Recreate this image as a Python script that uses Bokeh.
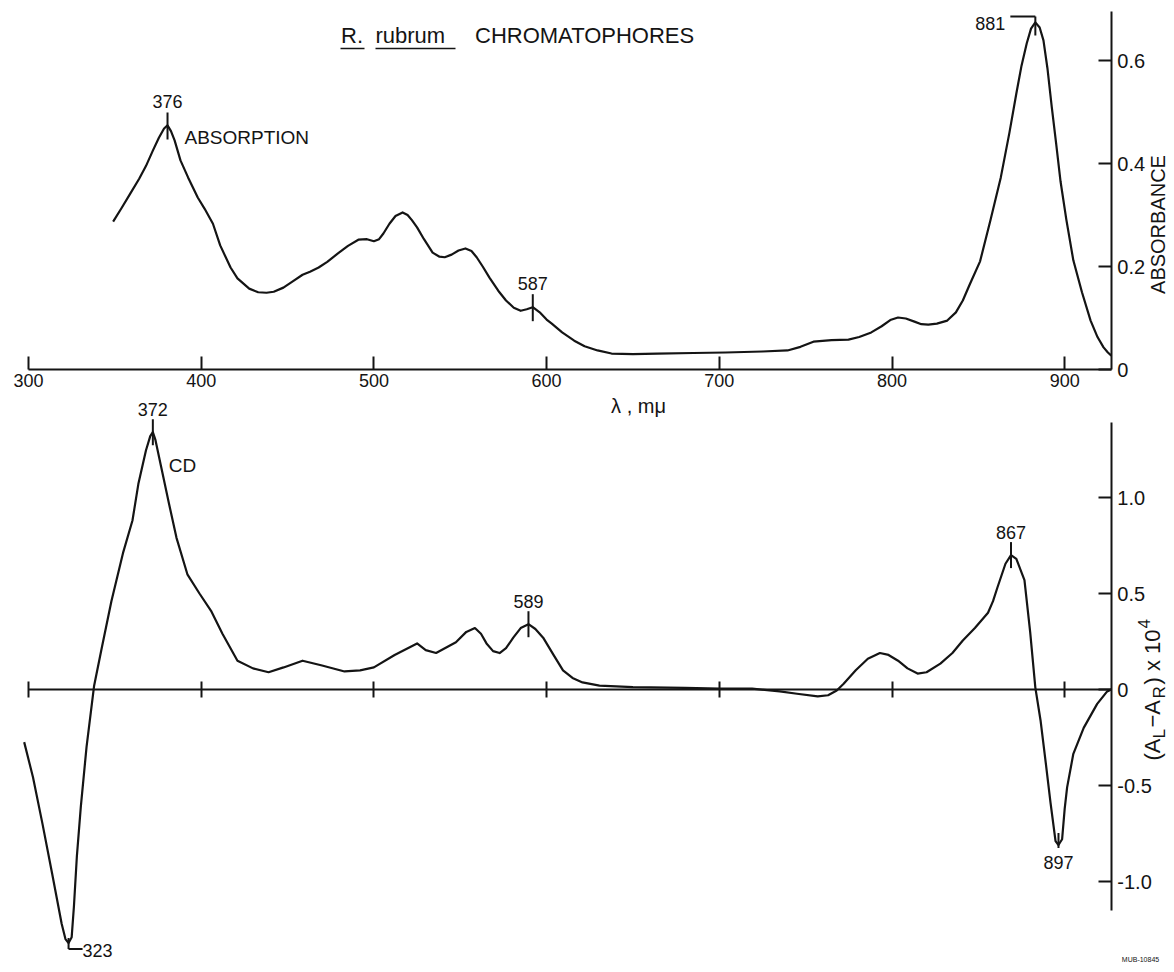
import math
from bokeh.plotting import figure
from bokeh.models import Range1d, LinearAxis, FixedTicker
from bokeh.core.properties import value
from bokeh.embed import file_html
from bokeh.resources import INLINE

# ---------------- data ----------------
abs_wavelength = [349, 354, 359, 364, 368, 372, 375.5, 378.5, 380.5, 382.5,
                  384.6, 388, 392.4, 398, 402, 406.8, 411, 417, 421, 427.8,
                  433, 437.8, 442, 447.6, 453, 458.7, 463, 468, 473, 479,
                  485, 491, 496, 500, 503, 505.5, 509, 512.5, 516.6, 519.5,
                  522, 525, 529, 534, 538, 541, 545, 549, 553, 556.5,
                  559.5, 563, 567, 572, 576.5, 581, 585, 588.5, 592, 596,
                  600, 603, 609, 616, 622, 629.5, 637.6, 650, 664, 685,
                  703.6, 725, 739.5, 747, 754.5, 765, 774.8, 781, 788, 794,
                  799, 803.5, 808, 813, 817, 821, 826, 832, 837, 841,
                  845, 851, 857, 863, 868, 872, 875, 878, 880.5, 883,
                  885.5, 887.7, 890, 892.5, 895, 897.6, 901, 905, 910, 915,
                  919, 922.5, 925, 927]
abs_absorbance = [0.287, 0.314, 0.342, 0.370, 0.395, 0.425, 0.450, 0.468, 0.474, 0.463,
                  0.445, 0.406, 0.373, 0.334, 0.312, 0.283, 0.241, 0.198, 0.177, 0.157,
                  0.150, 0.149, 0.151, 0.159, 0.171, 0.184, 0.190, 0.198, 0.209, 0.225,
                  0.240, 0.252, 0.253, 0.249, 0.253, 0.264, 0.283, 0.298, 0.305, 0.300,
                  0.290, 0.276, 0.253, 0.227, 0.219, 0.218, 0.223, 0.231, 0.235, 0.230,
                  0.218, 0.200, 0.178, 0.153, 0.134, 0.120, 0.114, 0.117, 0.121, 0.111,
                  0.097, 0.089, 0.072, 0.056, 0.045, 0.037, 0.031, 0.030, 0.031, 0.032,
                  0.033, 0.035, 0.037, 0.044, 0.054, 0.057, 0.058, 0.063, 0.072, 0.084,
                  0.096, 0.101, 0.099, 0.093, 0.088, 0.087, 0.089, 0.095, 0.111, 0.134,
                  0.165, 0.210, 0.290, 0.373, 0.460, 0.536, 0.590, 0.633, 0.662, 0.674,
                  0.664, 0.639, 0.585, 0.510, 0.440, 0.365, 0.290, 0.212, 0.150, 0.095,
                  0.063, 0.043, 0.033, 0.027]

cd_wavelength = [297.5, 302.6, 308.1, 313.7, 319.2, 321.4, 323.2, 325, 326.3, 328,
                 330.3, 333.6, 338, 342.5, 348, 354.7, 360.2, 363.6, 368, 370.5,
                 372, 373.5, 376.8, 381.3, 385.7, 392, 399, 405.7, 412.3, 421,
                 430, 439, 447.7, 458.7, 470, 483, 492, 500, 512, 525,
                 530, 536, 547.5, 553.5, 558.5, 562, 565.2, 569, 572.8, 576.5,
                 580.7, 585, 589.5, 593.5, 598, 604, 609.5, 615, 620.8, 630.6,
                 650, 680, 700, 719, 735, 745, 757, 763, 768, 772,
                 779, 786, 793, 798, 803.5, 809, 814.8, 820, 828, 835,
                 841, 848, 855.6, 858.5, 861, 865.7, 868.9, 872, 876.7, 880,
                 883, 886, 889, 891.8, 894.7, 896.4, 898.5, 900, 901.4, 905,
                 911, 918.8, 924.6, 927]
cd_value = [-0.274, -0.457, -0.70, -0.96, -1.22, -1.30, -1.32, -1.29, -1.13, -0.87,
            -0.61, -0.30, 0.02, 0.22, 0.46, 0.71, 0.88, 1.07, 1.245, 1.32,
            1.34, 1.30, 1.16, 0.97, 0.79, 0.60, 0.50, 0.41, 0.29, 0.15,
            0.11, 0.09, 0.115, 0.15, 0.125, 0.094, 0.10, 0.115, 0.18, 0.24,
            0.205, 0.19, 0.246, 0.30, 0.32, 0.29, 0.24, 0.20, 0.19, 0.215,
            0.27, 0.32, 0.34, 0.315, 0.27, 0.18, 0.10, 0.06, 0.037, 0.02,
            0.012, 0.008, 0.005, 0.005, -0.01, -0.022, -0.036, -0.03, -0.005, 0.03,
            0.10, 0.16, 0.19, 0.18, 0.15, 0.11, 0.083, 0.09, 0.135, 0.19,
            0.255, 0.32, 0.40, 0.46, 0.53, 0.655, 0.70, 0.68, 0.57, 0.30,
            0.01, -0.16, -0.38, -0.59, -0.79, -0.81, -0.78, -0.62, -0.51, -0.335,
            -0.2, -0.075, -0.01, 0.0]

x_ticks = [300, 400, 500, 600, 700, 800, 900]
abs_ticks = [0, 0.2, 0.4, 0.6]
abs_tick_labels = ["0", "0.2", "0.4", "0.6"]
cd_ticks = [-1.0, -0.5, 0.0, 0.5, 1.0]
cd_tick_labels = ["-1.0", "-0.5", "0", "0.5", "1.0"]

abs_peak_labels = ["376", "587", "881"]
abs_peak_wavelength = [380.5, 592, 883]
cd_peak_labels = ["372", "589", "867", "897", "323"]
cd_peak_wavelength = [372, 589.5, 868.9, 896.4, 323.2]

X_END = 927.0

# ---------------- layout helpers (page pixels -> data) ----------------
INK = "#141414"
FONT = "Liberation Sans"
W, H = 1172, 970


def lam(px):
    return 300 + (px - 28) / 1.727


def absv(py):
    return (369 - py) / 515


def cdv(py):
    return (689 - py) / 192


def px_of(l):
    return 28 + (l - 300) * 1.727


def py_abs(a):
    return 369 - a * 515


def py_cd(v):
    return 689 - v * 192


p = figure(width=W, height=H, output_backend="svg", toolbar_location=None,
           x_range=Range1d(lam(0), lam(W)),
           y_range=Range1d(cdv(H), cdv(0)),
           min_border_left=0, min_border_right=0, min_border_top=0, min_border_bottom=0,
           x_axis_type=None, y_axis_type=None, tools="")
p.extra_y_ranges = {"abs": Range1d(absv(H), absv(0))}
p.outline_line_color = None
p.xgrid.visible = False
p.ygrid.visible = False
p.background_fill_color = "white"
p.border_fill_color = "white"

# curves
p.line(abs_wavelength, abs_absorbance, y_range_name="abs", line_color=INK,
       line_width=2.2, line_join="round")
p.line(cd_wavelength, cd_value, line_color=INK, line_width=2.2, line_join="round")


def style_axis(ax, size):
    ax.axis_line_color = INK
    ax.axis_line_width = 2
    ax.major_tick_line_color = INK
    ax.major_tick_line_width = 2
    ax.minor_tick_line_color = None
    ax.major_label_text_font = FONT
    ax.major_label_text_font_size = f"{size}px"
    ax.major_label_text_color = INK


# wavelength axis of the absorption panel (at absorbance 0)
ax_top = LinearAxis(y_range_name="abs", fixed_location=0, bounds=(300, X_END),
                    ticker=FixedTicker(ticks=x_ticks))
style_axis(ax_top, 18)
ax_top.major_tick_in = 13
ax_top.major_tick_out = 0
ax_top.major_label_standoff = 4
p.add_layout(ax_top, "below")

# CD zero axis (ticks on both sides, no labels)
ax_cd0 = LinearAxis(fixed_location=0, bounds=(300, X_END),
                    ticker=FixedTicker(ticks=x_ticks),
                    major_label_overrides={t: "" for t in x_ticks})
style_axis(ax_cd0, 18)
ax_cd0.major_tick_in = 8
ax_cd0.major_tick_out = 8
p.add_layout(ax_cd0, "below")

# absorbance axis (right)
ax_abs = LinearAxis(y_range_name="abs", fixed_location=X_END, bounds=(0, 0.695),
                    ticker=FixedTicker(ticks=abs_ticks),
                    major_label_overrides=dict(zip(abs_ticks, abs_tick_labels)))
style_axis(ax_abs, 20)
ax_abs.major_tick_in = 13
ax_abs.major_tick_out = 0
ax_abs.major_label_standoff = 6
p.add_layout(ax_abs, "right")

# CD axis (right)
ax_cd = LinearAxis(fixed_location=X_END, bounds=(-1.15, 1.39),
                   ticker=FixedTicker(ticks=cd_ticks),
                   major_label_overrides=dict(zip(cd_ticks, cd_tick_labels)))
style_axis(ax_cd, 20)
ax_cd.major_tick_in = 13
ax_cd.major_tick_out = 0
ax_cd.major_label_standoff = 6
p.add_layout(ax_cd, "right")


def txt(px, py, s, size, align="center", angle=0.0):
    p.text(x=[lam(px)], y=[cdv(py)], text=[s], text_font=value(FONT),
           text_font_size=value(f"{size}px"), text_align=align,
           text_baseline="middle", angle=angle, text_color=INK)


def seg(px0, py0, px1, py1, w=2.0):
    p.segment(x0=[lam(px0)], y0=[cdv(py0)], x1=[lam(px1)], y1=[cdv(py1)],
              line_color=INK, line_width=w)


# title
txt(340.6, 35, "R.", 22, "left")
txt(375, 35, "rubrum", 22, "left")
txt(474.5, 35, "CHROMATOPHORES", 22, "left")
seg(340, 48, 364, 48, 1.6)
seg(375, 48, 455, 48, 1.6)

txt(184, 137, "ABSORPTION", 19, "left")
txt(182, 465, "CD", 19, "center")
txt(638, 405, "λ , mμ", 20, "center")

# absorption peak markers
for lab, wl in zip(abs_peak_labels, abs_peak_wavelength):
    i = abs_wavelength.index(wl)
    xp = px_of(abs_wavelength[i])
    yp = py_abs(abs_absorbance[i])
    if lab == "881":
        seg(xp, yp - 6, xp, yp + 13)
        seg(xp - 25, yp - 6, xp, yp - 6)
        txt(xp - 30, yp + 1, lab, 18, "right")
    else:
        seg(xp, yp - 13, xp, yp + 14)
        txt(xp, yp - 24, lab, 18, "center")

# CD peak markers
for lab, wl in zip(cd_peak_labels, cd_peak_wavelength):
    i = cd_wavelength.index(wl)
    xp = px_of(cd_wavelength[i])
    yp = py_cd(cd_value[i])
    if lab == "323":
        seg(xp, yp - 5, xp, yp + 6)
        seg(xp, yp + 6, xp + 14, yp + 6)
        txt(xp + 14, yp + 8, lab, 18, "left")
    elif lab == "897":
        seg(xp, yp - 12, xp, yp + 3)
        txt(xp, yp + 17, lab, 18, "center")
    else:
        seg(xp, yp - 13, xp, yp + 13)
        txt(xp, yp - 23, lab, 18, "center")

# rotated axis titles
txt(1157, 224, "ABSORBANCE", 20, "center", angle=math.pi / 2)


def rtxt(px, py, s, size):
    p.text(x=[lam(px)], y=[cdv(py)], text=[s], text_font=value(FONT),
           text_font_size=value(f"{size}px"), text_align="left",
           text_baseline="middle", angle=math.pi / 2, text_color=INK)


rtxt(1152, 760, "(A", 22)
rtxt(1159, 738, "L", 17)
rtxt(1152, 727, "\u2212A", 22)
rtxt(1159, 698, "R", 17)
rtxt(1152, 684, ") x 10", 22)
rtxt(1143, 628, "4", 17)

txt(1140, 959, "MUB-10845", 7, "center")

open("out.html", "w").write(file_html(p, INLINE))
